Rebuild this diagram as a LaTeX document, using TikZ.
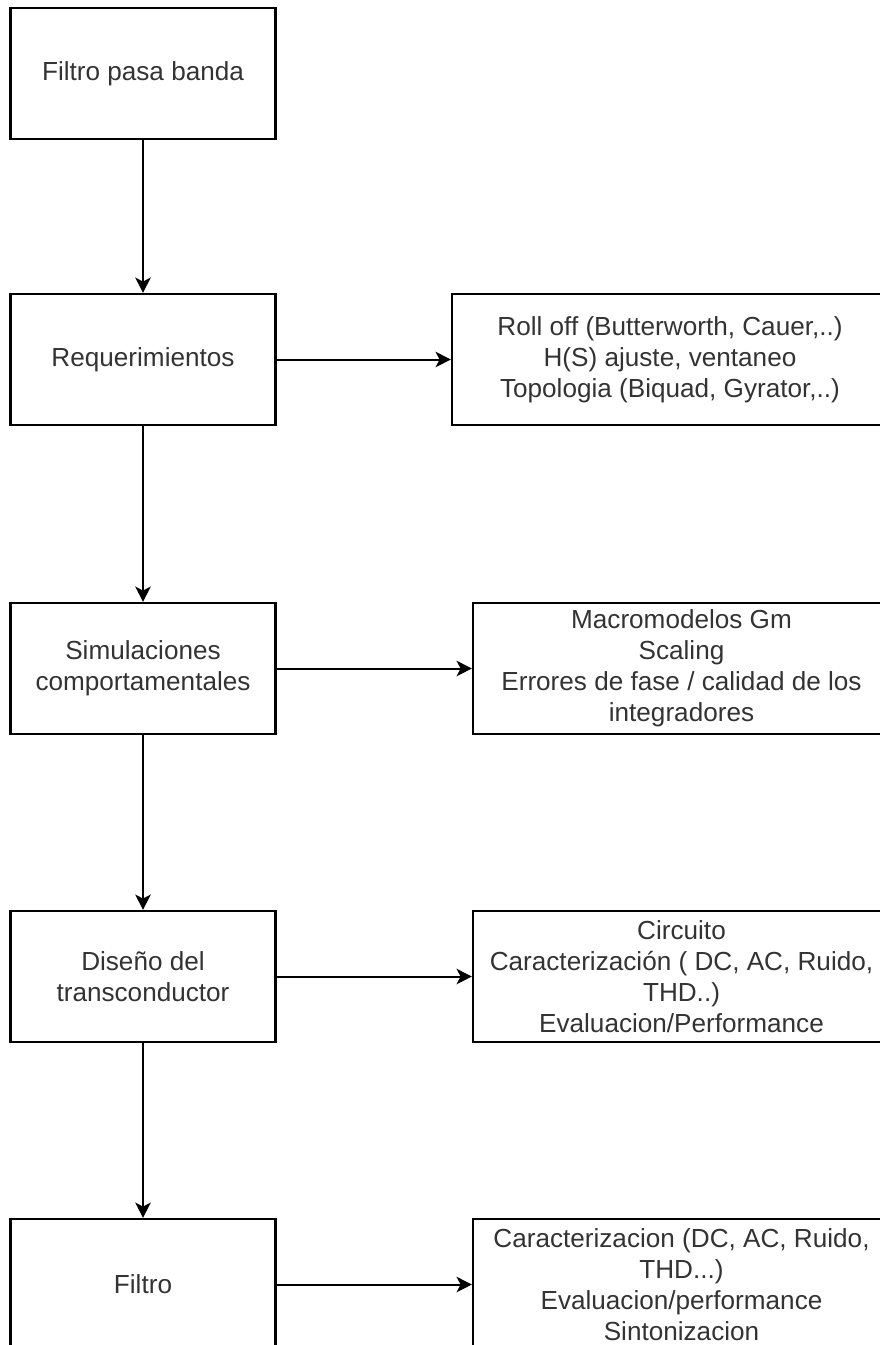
\documentclass[tikz,border=0pt]{standalone}
\usepackage{fontspec}
\setmainfont{Liberation Sans}
\usetikzlibrary{arrows.meta}
\tikzset{
  box/.style={draw=black, line width=1.6pt, fill=white, minimum height=98.25pt,
    align=center, inner sep=0pt, font=\fontsize{19.6pt}{23.3pt}\selectfont, text=black!80},
  lbox/.style={box, minimum width=198.75pt},
  conn/.style={draw=black, line width=1.5pt, -{Stealth[length=11.5pt, width=11.5pt, inset=3pt]}}
}
\begin{document}
\begin{tikzpicture}[x=0.75pt, y=-0.75pt]
\useasboundingbox (0,0) rectangle (880,1345);
\clip (0,0) rectangle (880,1345);
\fill[white] (0,0) rectangle (880,1345);
% left column
\node[lbox] (f)  at (143,73.5)   {Filtro pasa banda};
\node[lbox] (rq) at (143,359.5)  {Requerimientos};
\node[lbox] (sc) at (143,668.5)  {Simulaciones\\comportamentales};
\node[lbox] (dt) at (143,976.5)  {Diseño del\\transconductor};
\node[lbox] (fi) at (143,1284.5) {Filtro};
% right column
\node[box, minimum width=327pt] (r1) at (670,359.5)
  {Roll off (Butterworth, Cauer,..)\\H(S) ajuste, ventaneo\\Topologia (Biquad, Gyrator,..)};
\node[box, minimum width=312.75pt] (r2) at (681.5,668.5)
  {Macromodelos Gm\\Scaling\\Errores de fase / calidad de los\\integradores};
\node[box, minimum width=312.75pt] (r3) at (681.5,976.5)
  {Circuito\\Caracterización ( DC, AC, Ruido,\\THD..)\\Evaluacion/Performance};
\node[box, minimum width=312.75pt] (r4) at (681.5,1284.5)
  {Caracterizacion (DC, AC, Ruido,\\THD...)\\Evaluacion/performance\\Sintonizacion};
% connectors
\draw[conn] (f) -- (rq);
\draw[conn] (rq) -- (sc);
\draw[conn] (sc) -- (dt);
\draw[conn] (dt) -- (fi);
\draw[conn] (rq) -- (r1);
\draw[conn] (sc) -- (r2);
\draw[conn] (dt) -- (r3);
\draw[conn] (fi) -- (r4);
\end{tikzpicture}
\end{document}
